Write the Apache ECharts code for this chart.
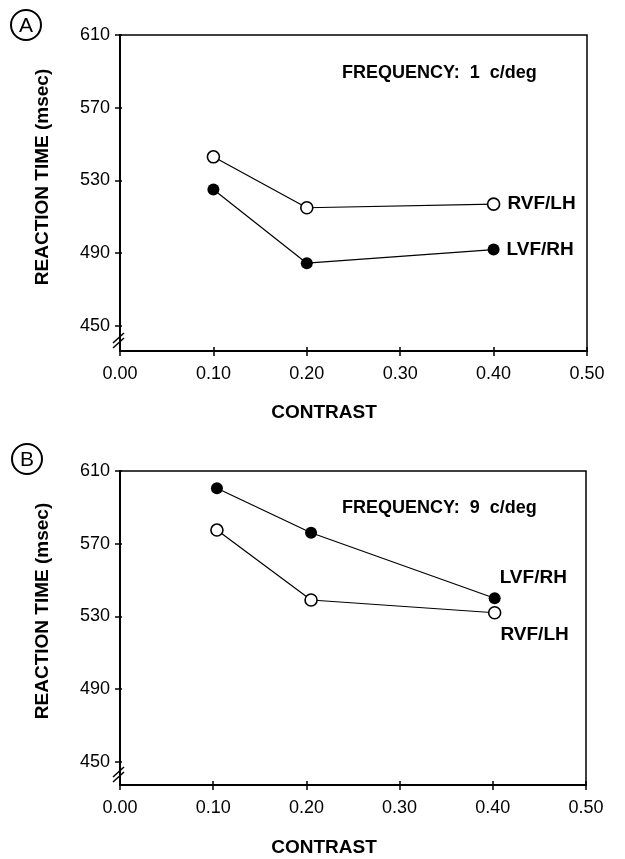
<!DOCTYPE html>
<html><head><meta charset="utf-8">
<script src="https://cdn.jsdelivr.net/npm/echarts@6/dist/echarts.min.js"></script>
<style>html,body{margin:0;padding:0;background:#fff}#c{width:625px;height:859px}</style>
</head><body><div id="c"></div>
<script>
// Panel A: frequency 1 c/deg
const contrastA = [0.10, 0.20, 0.40];
const rvfA = [543, 515, 517];
const lvfA = [525, 484.5, 492];
// Panel B: frequency 9 c/deg
const contrastB = [0.104, 0.205, 0.402];
const lvfB = [600.5, 576, 540];
const rvfB = [577.5, 539, 532];
const yTicks = [450, 490, 530, 570, 610];
const xTicks = [0, 0.1, 0.2, 0.3, 0.4, 0.5];

const FONT = "'Liberation Sans', Arial, Helvetica, sans-serif";
const chart = echarts.init(document.getElementById('c'), null, {renderer: 'canvas'});

const grids = [
  {left: 120, top: 35, width: 467, height: 316},
  {left: 120, top: 471, width: 466, height: 314}
];
const yMins = [436.2, 437.2];

function xAxes(gi, inner) {
  return {
    type: 'value', gridIndex: gi, min: 0, max: 0.5, interval: 0.1,
    position: 'bottom',
    axisLine: {show: !inner, lineStyle: {color: '#000', width: 2}},
    axisTick: {show: true, inside: inner, length: inner ? 4 : 5, lineStyle: {color: '#000', width: 1.5}},
    axisLabel: {show: !inner, margin: 14, color: '#000', fontFamily: FONT, fontSize: 18,
      formatter: v => v.toFixed(2)},
    splitLine: {show: false}
  };
}
function yAxes(gi, inner) {
  return {
    type: 'value', gridIndex: gi, min: yMins[gi], max: 610,
    position: 'left',
    axisLine: {show: !inner, lineStyle: {color: '#000', width: 2}},
    axisTick: {show: true, inside: inner, length: inner ? 2 : 5, customValues: yTicks,
      lineStyle: {color: '#000', width: 1.5}},
    axisLabel: {show: !inner, margin: 10, color: '#000', fontFamily: FONT, fontSize: 18,
      customValues: yTicks},
    splitLine: {show: false}
  };
}

function mkSeries(name, xs, ys, filled, axisIdx, lab) {
  const data = xs.map((x, i) => {
    const d = {value: [x, ys[i]]};
    if (i === xs.length - 1) {
      d.label = Object.assign({show: true, formatter: name, position: 'right',
        color: '#000', fontFamily: FONT, fontWeight: 'bold', fontSize: 19}, lab);
    }
    return d;
  });
  return {
    type: 'line', name: name, xAxisIndex: axisIdx, yAxisIndex: axisIdx,
    data: data, symbol: 'circle', symbolSize: 12,
    lineStyle: {color: '#000', width: 1.2},
    itemStyle: {color: filled ? '#000' : '#fff', borderColor: '#000', borderWidth: filled ? 0 : 1.6},
    emphasis: {disabled: true}, animation: false, z: 3
  };
}

function breakMarks(yAx) {
  return [
    {type: 'line', shape: {x1: 113, y1: yAx - 8, x2: 124, y2: yAx - 18}, style: {stroke: '#000', lineWidth: 1.5}},
    {type: 'line', shape: {x1: 113, y1: yAx - 3, x2: 124, y2: yAx - 13}, style: {stroke: '#000', lineWidth: 1.5}}
  ];
}

function txt(x, y, s, opts) {
  return {type: 'text', x: x, y: y,
    style: Object.assign({text: s, fill: '#000', font: 'bold 19px ' + FONT,
      textAlign: 'center', textVerticalAlign: 'middle'}, opts || {})};
}

const option = {
  backgroundColor: '#fff',
  animation: false,
  grid: grids.map(g => Object.assign({show: true, borderColor: '#000', borderWidth: 1.5, backgroundColor: 'transparent'}, g)),
  xAxis: [xAxes(0, false), xAxes(0, true), xAxes(1, false), xAxes(1, true)],
  yAxis: [yAxes(0, false), yAxes(0, true), yAxes(1, false), yAxes(1, true)],
  series: [
    mkSeries('RVF/LH', contrastA, rvfA, false, 0, {distance: 7}),
    mkSeries('LVF/RH', contrastA, lvfA, true, 0, {distance: 7}),
    mkSeries('LVF/RH', contrastB, lvfB, true, 2, {distance: 5, offset: [-6, -20]}),
    mkSeries('RVF/LH', contrastB, rvfB, false, 2, {distance: 5, offset: [-6, 22]})
  ],
  graphic: [
    {type: 'circle', shape: {cx: 26, cy: 25, r: 15}, style: {fill: 'none', stroke: '#000', lineWidth: 2}},
    txt(26, 26, 'A', {font: '21px ' + FONT}),
    {type: 'circle', shape: {cx: 27, cy: 459, r: 15}, style: {fill: 'none', stroke: '#000', lineWidth: 2}},
    txt(27, 460, 'B', {font: '21px ' + FONT}),
    Object.assign(txt(43, 177, 'REACTION TIME (msec)'), {rotation: Math.PI / 2}),
    Object.assign(txt(43, 611, 'REACTION TIME (msec)'), {rotation: Math.PI / 2}),
    txt(324, 413, 'CONTRAST'),
    txt(324, 848, 'CONTRAST'),
    txt(342, 73, 'FREQUENCY:  1  c/deg', {textAlign: 'left', font: 'bold 18px ' + FONT}),
    txt(342, 508, 'FREQUENCY:  9  c/deg', {textAlign: 'left', font: 'bold 18px ' + FONT}),
    ...breakMarks(351),
    ...breakMarks(785)
  ]
};
chart.setOption(option);
</script>
</body></html>
